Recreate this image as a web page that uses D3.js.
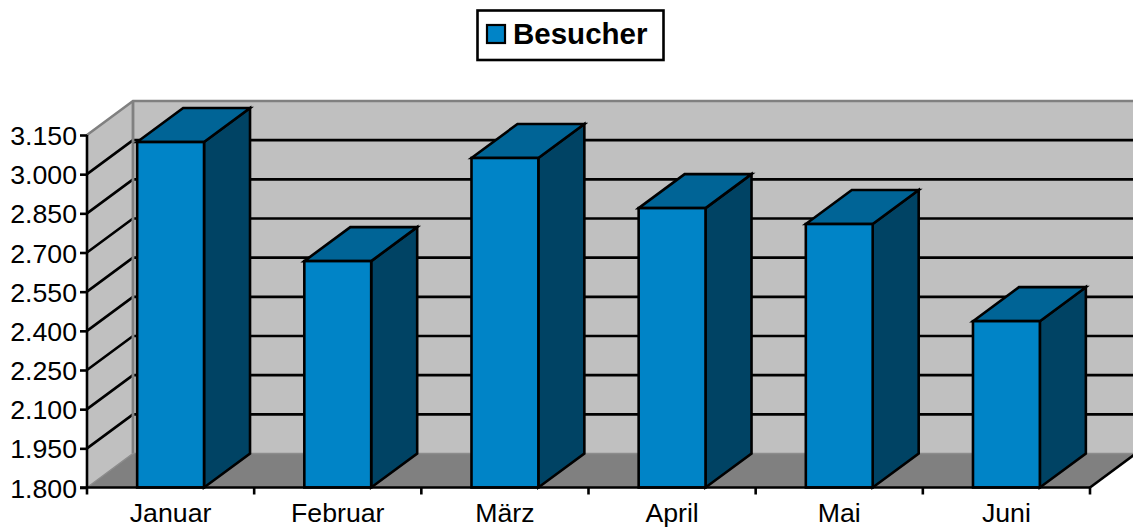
<!DOCTYPE html>
<html><head><meta charset="utf-8">
<script src="https://cdn.jsdelivr.net/npm/d3@7"></script>
<style>html,body{margin:0;padding:0;background:#fff}svg{display:block}text{font-family:"Liberation Sans",Arial,sans-serif;fill:#000}</style>
</head><body><div id="c"></div>
<script>
const categories = ["Januar","Februar","März","April","Mai","Juni"];
const values = [3123,2667,3062,2870,2809,2437];
const tickValues = [1800,1950,2100,2250,2400,2550,2700,2850,3000,3150];
const seriesName = "Besucher";

const W=1133,H=528, dx=46, dy=-34;
const svg=d3.select("#c").append("svg").attr("width",W).attr("height",H);
const x=d3.scaleBand().domain(categories).range([87,1090]).paddingInner(0).paddingOuter(0);
const y=d3.scaleLinear().domain([1800,3150]).range([487.5,135]);
const fmt=v=>d3.format(",")(v).replace(",",".");
const bw=x.bandwidth()*0.4;
const grey="#808080";
const lw=2.6;
const pts=a=>a.map(p=>p.join(",")).join(" ");

// walls
const x0=x.range()[0],x1=x.range()[1],yb=y(1800),yt=y(3150);
svg.append("polygon").attr("points",pts([[x0,yb],[x0,yt],[x0+dx,yt+dy],[x0+dx,yb+dy]])).attr("fill","#c0c0c0");
svg.append("polygon").attr("points",pts([[x0+dx,yb+dy],[x0+dx,yt+dy],[x1+dx,yt+dy],[x1+dx,yb+dy]])).attr("fill","#c0c0c0");
svg.append("polygon").attr("points",pts([[x0,yb],[x0+dx,yb+dy],[x1+dx,yb+dy],[x1,yb]])).attr("fill",grey);

// gridlines
const grid=tickValues.filter(v=>v>1800&&v<3150);
svg.selectAll(".g").data(grid).join("polyline").attr("class","g")
  .attr("points",v=>pts([[x0,y(v)],[x0+dx,y(v)+dy],[x1+dx,y(v)+dy]]))
  .attr("fill","none").attr("stroke","#000").attr("stroke-width",lw);

// wall edges
svg.append("polyline").attr("points",pts([[x0,yt],[x0+dx,yt+dy],[x1+dx,yt+dy]])).attr("fill","none").attr("stroke",grey).attr("stroke-width",2.6);
svg.append("line").attr("x1",x0+dx).attr("x2",x0+dx).attr("y1",yt+dy).attr("y2",yb+dy).attr("stroke",grey).attr("stroke-width",2.8);
svg.append("polyline").attr("points",pts([[x0,yb],[x0+dx,yb+dy],[x1+dx,yb+dy]])).attr("fill","none").attr("stroke","#8c8c8c").attr("stroke-width",1.4);
svg.append("line").attr("x1",x1).attr("y1",yb).attr("x2",x1+dx).attr("y2",yb+dy).attr("stroke","#000").attr("stroke-width",lw);

// bars
const bars=svg.selectAll(".bar").data(categories.map((c,i)=>({c,v:values[i]}))).join("g").attr("class","bar");
const cx=d=>x(d.c)+x.bandwidth()/2-bw/2;
const st=s=>s.attr("stroke","#000").attr("stroke-width",lw).attr("stroke-linejoin","miter");
st(bars.append("polygon").attr("fill","#004364").attr("points",d=>{const l=cx(d)+bw;return pts([[l,yb],[l,y(d.v)],[l+dx,y(d.v)+dy],[l+dx,yb+dy]])}));
st(bars.append("polygon").attr("fill","#006496").attr("points",d=>{const l=cx(d);return pts([[l,y(d.v)],[l+dx,y(d.v)+dy],[l+bw+dx,y(d.v)+dy],[l+bw,y(d.v)]])}));
st(bars.append("rect").attr("fill","#0084c7").attr("x",cx).attr("y",d=>y(d.v)).attr("width",bw).attr("height",d=>yb-y(d.v)));

// axes
const gy=svg.append("g").attr("transform",`translate(${x0},0)`).call(d3.axisLeft(y).tickValues(tickValues).tickFormat(fmt).tickSize(7).tickPadding(3));
gy.selectAll("text").attr("font-size",26.7).attr("font-family",'"Liberation Sans"').attr("dy","0.36em");
gy.selectAll("line").attr("stroke","#000").attr("stroke-width",lw);
gy.select(".domain").attr("stroke","#000").attr("stroke-width",lw).attr("d",`M0,${yt}V${yb}`);
const edges=[...categories.map(c=>x(c)),x1];
svg.append("line").attr("x1",x0-7).attr("x2",x1).attr("y1",yb).attr("y2",yb).attr("stroke","#000").attr("stroke-width",lw);
svg.selectAll(".xt").data(edges).join("line").attr("class","xt").attr("x1",d=>d).attr("x2",d=>d).attr("y1",yb).attr("y2",yb+7).attr("stroke","#000").attr("stroke-width",lw);
svg.selectAll(".xl").data(categories).join("text").attr("class","xl").attr("x",c=>x(c)+x.bandwidth()/2).attr("y",522).attr("text-anchor","middle").attr("font-size",26.7).text(c=>c);

// legend
svg.append("rect").attr("x",477.5).attr("y",10.5).attr("width",186).attr("height",49.5).attr("fill","#fff").attr("stroke","#000").attr("stroke-width",2.6);
svg.append("rect").attr("x",487).attr("y",25).attr("width",18).attr("height",18).attr("fill","#0084c7").attr("stroke","#000").attr("stroke-width",2.2);
svg.append("text").attr("x",513).attr("y",44).attr("font-size",29.5).attr("font-weight","bold").text(seriesName);
</script></body></html>
